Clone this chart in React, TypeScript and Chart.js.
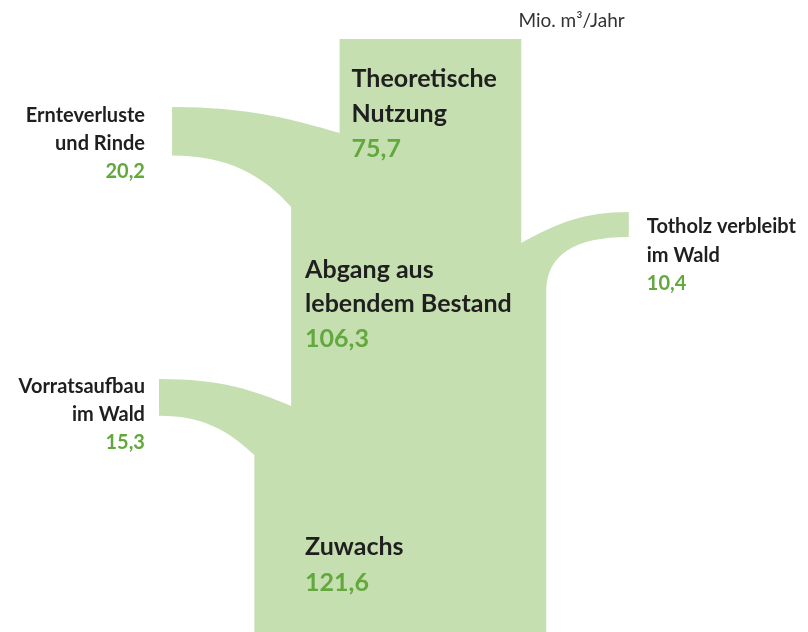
import React, { useEffect, useRef } from 'react';
import { Chart, registerables } from 'chart.js';

Chart.register(...registerables);

// ---- Data (Mio. m³/Jahr) ----
const nodeKeys = ['zuwachs', 'vorrat', 'abgang', 'ernte', 'totholz', 'nutzung'];
const nodeLabels = [
  ['Zuwachs'],
  ['Vorratsaufbau', 'im Wald'],
  ['Abgang aus', 'lebendem Bestand'],
  ['Ernteverluste', 'und Rinde'],
  ['Totholz verbleibt', 'im Wald'],
  ['Theoretische', 'Nutzung'],
];
const nodeValues = [121.6, 15.3, 106.3, 20.2, 10.4, 75.7];
const unitLabel = 'Mio. m³/Jahr';

const FILL = '#c6dfb1';
const DARK = '#1f1f1f';
const GREEN = '#62a83d';
const FONT = 'Lato, "Open Sans", sans-serif';

const val = (key: string) => nodeValues[nodeKeys.indexOf(key)];
const lab = (key: string) => nodeLabels[nodeKeys.indexOf(key)];
const fmt = (v: number) =>
  v.toLocaleString('de-DE', { minimumFractionDigits: 1, maximumFractionDigits: 1 });

const sankeyPlugin = {
  id: 'sankeyFlow',
  beforeDatasetsDraw(chart: any) {
    const { ctx, scales } = chart;
    const xs = scales.x;
    const ys = scales.y;
    const X = (u: number) => xs.getPixelForValue(u);
    const Y = (v: number) => ys.getPixelForValue(v);
    const k = X(1) - X(0); // pixels per flow unit

    const zu = val('zuwachs');
    const vo = val('vorrat');
    const ab = val('abgang');
    const er = val('ernte');
    const th = val('totholz');
    const nu = val('nutzung');

    // trunk edges derived from flow widths
    const zuL = X(0);
    const zuR = X(zu);
    const abL = X(vo);
    const abR = X(vo + ab);
    const nuL = X(vo + er);
    const nuR = X(vo + er + nu);

    // branch ends (layout)
    const eX = X(-34.3);
    const vX = X(-39.75);
    const tX = X(156);

    const vTop = Y(379);
    const vH = vo * k;
    const eTop = Y(107);
    const eH = er * k;
    const tTop = Y(212);
    const tH = th * k;

    ctx.save();
    ctx.fillStyle = FILL;
    ctx.beginPath();
    // bottom-left of Zuwachs, up the left side
    ctx.moveTo(zuL, Y(632) + 2);
    ctx.lineTo(zuL, Y(455));
    // Vorratsaufbau branch
    ctx.bezierCurveTo(zuL - 26, Y(455) - 24, vX + 45, vTop + vH, vX, vTop + vH);
    ctx.lineTo(vX, vTop);
    ctx.bezierCurveTo(vX + 62, vTop, abL - 38, Y(406) - 16, abL, Y(406));
    // Abgang left side
    ctx.lineTo(abL, Y(207));
    // Ernteverluste branch
    ctx.bezierCurveTo(abL - 28, Y(207) - 32, eX + 55, eTop + eH, eX, eTop + eH);
    ctx.lineTo(eX, eTop);
    ctx.bezierCurveTo(eX + 75, eTop, nuL - 48, Y(133) - 14, nuL, Y(133));
    // Theoretische Nutzung column
    ctx.lineTo(nuL, Y(39));
    ctx.lineTo(nuR, Y(39));
    ctx.lineTo(nuR, Y(243));
    // Totholz branch
    ctx.bezierCurveTo(nuR + 36, Y(243) - 20, tX - 45, tTop, tX, tTop);
    ctx.lineTo(tX, tTop + tH);
    ctx.bezierCurveTo(tX - 55, tTop + tH, abR + 1, Y(290) - 35, abR, Y(290));
    // right side down to bottom
    ctx.lineTo(zuR, Y(632) + 2);
    ctx.closePath();
    ctx.fill();

    // ---- Labels ----
    const big = `bold 25px ${FONT}`;
    const small = `bold 20px ${FONT}`;
    const drawBlock = (
      lines: string[],
      value: number,
      x: number,
      baselines: number[],
      font: string,
      align: CanvasTextAlign
    ) => {
      ctx.font = font;
      ctx.textAlign = align;
      ctx.textBaseline = 'alphabetic';
      ctx.fillStyle = DARK;
      lines.forEach((t, i) => ctx.fillText(t, x, Y(baselines[i])));
      ctx.fillStyle = GREEN;
      ctx.fillText(fmt(value), x, Y(baselines[lines.length]));
    };

    drawBlock(lab('nutzung'), nu, nuL + 12, [87, 122, 157], big, 'left');
    drawBlock(lab('abgang'), ab, abL + 14, [278, 312, 347], big, 'left');
    drawBlock(lab('zuwachs'), zu, abL + 14, [555, 591], big, 'left');
    drawBlock(lab('ernte'), er, X(-45.6), [122, 150, 178], small, 'right');
    drawBlock(lab('vorrat'), vo, X(-45.6), [393, 421, 449], small, 'right');
    drawBlock(lab('totholz'), th, X(163.5), [233, 262, 290], small, 'left');

    ctx.font = `19px ${FONT}`;
    ctx.textAlign = 'left';
    ctx.fillStyle = '#333333';
    ctx.fillText(unitLabel, X(110), Y(27));

    ctx.restore();
  },
};

export default function App() {
  const ref = useRef<HTMLCanvasElement | null>(null);

  useEffect(() => {
    document.body.style.margin = '0';
    document.body.style.overflow = 'hidden';
    const canvas = ref.current;
    if (!canvas) return;
    const chart = new Chart(canvas, {
      type: 'scatter',
      data: { datasets: [{ data: [], showLine: false }] },
      options: {
        animation: false,
        responsive: true,
        maintainAspectRatio: false,
        layout: { padding: 0 },
        plugins: { legend: { display: false }, tooltip: { enabled: false } },
        scales: {
          x: { type: 'linear', display: false, min: -106, max: 230.67 },
          y: { type: 'linear', display: false, min: 0, max: 632, reverse: true },
        },
      },
      plugins: [sankeyPlugin],
    });
    return () => chart.destroy();
  }, []);

  return (
    <div style={{ width: 808, height: 632, position: 'relative', background: '#ffffff' }}>
      <canvas ref={ref} />
    </div>
  );
}
